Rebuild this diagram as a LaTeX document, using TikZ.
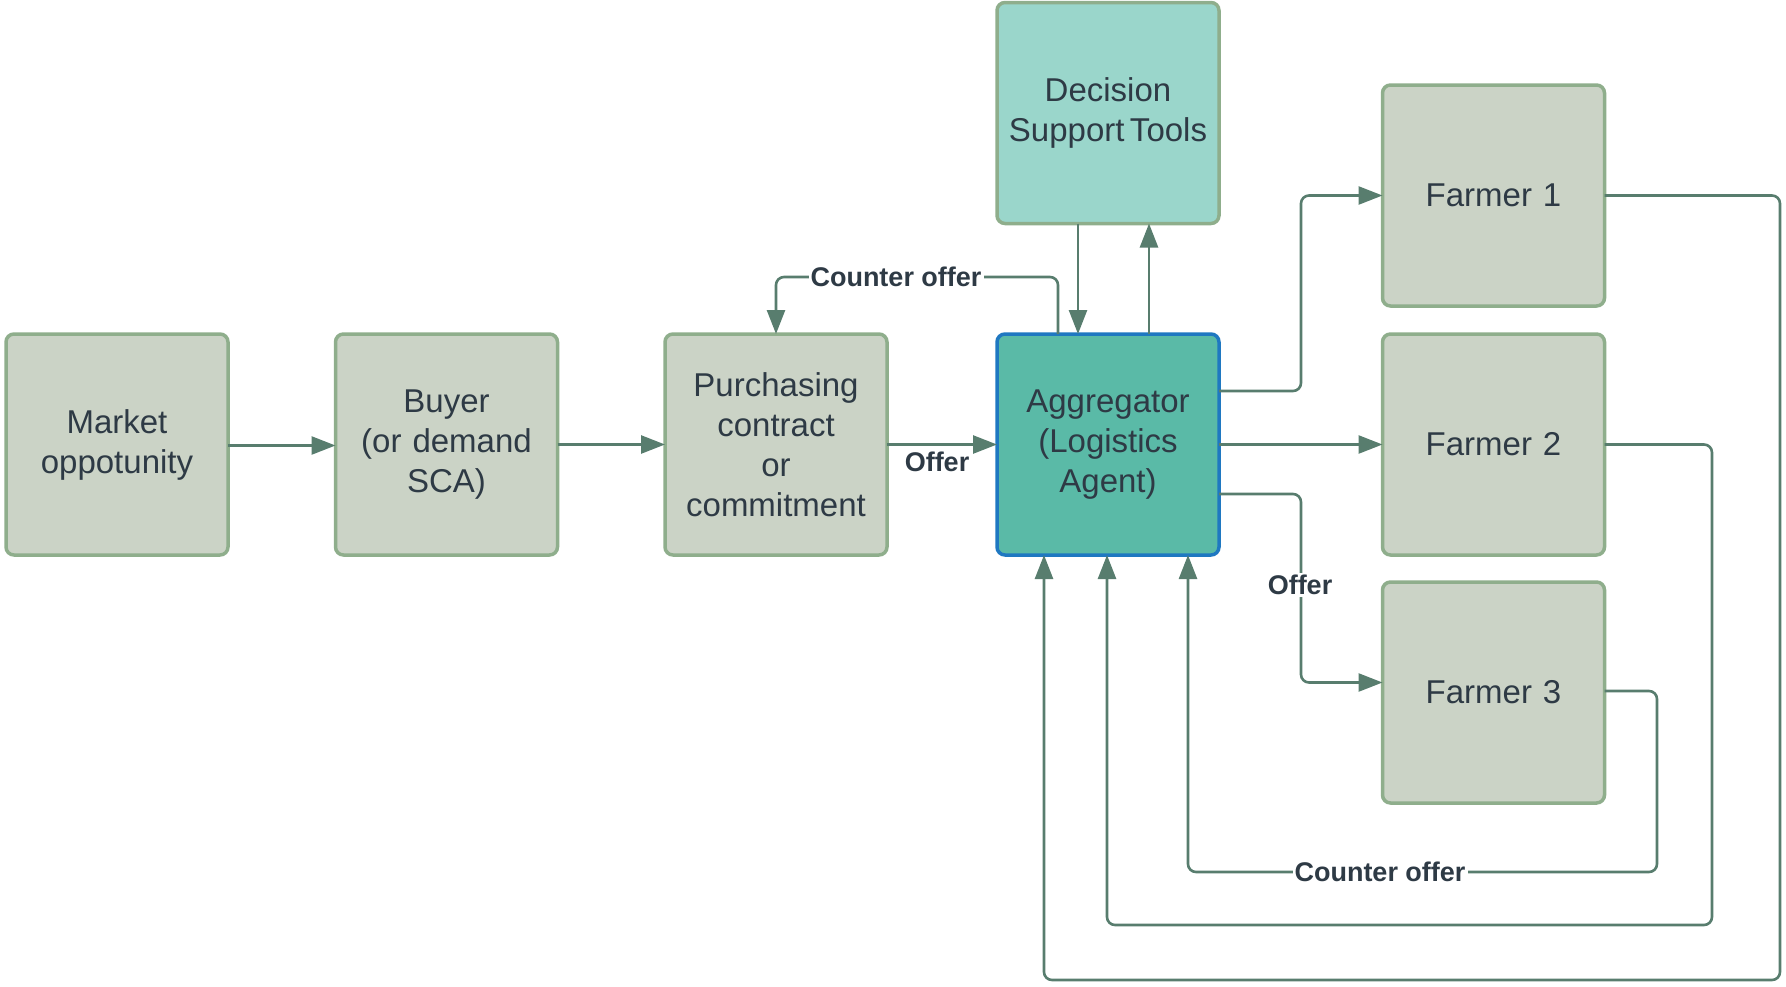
\documentclass[tikz,border=0pt]{standalone}
\usepackage{fontspec}
\setmainfont{Liberation Sans}
\usetikzlibrary{arrows.meta,calc}
\definecolor{conncol}{RGB}{88,125,110}
\definecolor{boxfill}{RGB}{203,211,198}
\definecolor{boxline}{RGB}{143,174,140}
\definecolor{aggfill}{RGB}{90,186,167}
\definecolor{aggline}{RGB}{31,120,193}
\definecolor{dstfill}{RGB}{154,214,203}
\definecolor{txtcol}{RGB}{46,58,69}
\begin{document}
\begin{tikzpicture}[x=1pt,y=-1pt,
  box/.style={draw=boxline,fill=boxfill,line width=3.5pt,rounded corners=8pt,
    minimum width=222pt,minimum height=221pt,inner sep=0pt,outer sep=0pt,
    text width=215pt,align=center,text=txtcol,
    font=\fontsize{33}{40}\selectfont},
  aggbox/.style={box,draw=aggline,fill=aggfill},
  dstbox/.style={box,fill=dstfill},
  conn/.style={draw=conncol,line width=2.6pt,rounded corners=8pt,
    -{Triangle[length=24pt,width=18pt]}},
  lbl/.style={font=\bfseries\fontsize{27}{30}\selectfont,text=txtcol,inner sep=2pt}
]
\useasboundingbox (0,0) rectangle (1786,986);

\node[box] (mkt) at (117,444.5) {Market\\oppotunity};
\node[box] (buy) at (446.5,444.5) {Buyer\\(or demand\\SCA)};
\node[box] (pur) at (776,444.5) {Purchasing\\contract\\or\\commitment};
\node[aggbox] (agg) at (1108,444.5) {Aggregator\\(Logistics\\Agent)};
\node[dstbox] (dst) at (1108,113) {Decision\\Support\,Tools};
\node[box] (f1) at (1493.5,195.5) {Farmer 1};
\node[box] (f2) at (1493.5,444.5) {Farmer 2};
\node[box] (f3) at (1493.5,692.5) {Farmer 3};

% main chain
\draw[conn] ([yshift=-1pt]mkt.east) -- ([yshift=-1pt]buy.west);
\draw[conn] (buy) -- (pur);
\draw[conn] (pur) -- (agg);
\node[lbl] (offer1) at (937,462) {Offer};

% counter offer top
\draw[conn] ([xshift=-50pt]agg.north) |- (776,277) -- (pur.north);
\node[lbl,fill=white] (co1) at (896,277) {Counter offer};

% decision support
\draw[conn] ([xshift=-30pt]dst.south) -- ([xshift=-30pt]agg.north);
\draw[conn] ([xshift=41pt]agg.north) -- ([xshift=41pt]dst.south);

% to farmers
\draw[conn] ([yshift=53.5pt]agg.east) -- ++(82,0) |- (f1.west);
\draw[conn] (agg) -- (f2);
\draw[conn] ([yshift=-49.5pt]agg.east) -- ++(82,0) |- ([yshift=10pt]f3.west);
\node[lbl,fill=white] (offer2) at (1300,585) {Offer};

% returns
\draw[conn] (f1.east) -| (1780,980) -| ([xshift=-64pt]agg.south);
\draw[conn] (f2.east) -| (1712,925) -| ([xshift=-1pt]agg.south);
\draw[conn] ([yshift=1.5pt]f3.east) -| (1657,872) -| ([xshift=80pt]agg.south);
\node[lbl,fill=white] (co2) at (1380,872) {Counter offer};
\end{tikzpicture}
\end{document}
